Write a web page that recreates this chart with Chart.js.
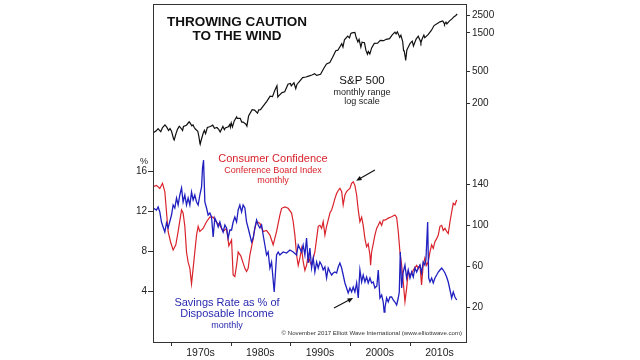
<!DOCTYPE html>
<html>
<head>
<meta charset="utf-8">
<script src="https://cdn.jsdelivr.net/npm/chart.js@4.4.1/dist/chart.umd.min.js"></script>
<style>
  body { margin: 0; background: #fff; }
  canvas { display: block; }
</style>
</head>
<body>
<canvas id="chart" width="640" height="360"></canvas>
<script>
// S&P 500 (log scale, top panel)
const spYear = [1966.95,1967.45,1967.75,1968.0,1968.2,1968.5,1968.9,1969.2,1969.5,1969.75,1970.0,1970.35,1970.45,1970.75,1971.0,1971.3,1971.6,1971.85,1972.0,1972.5,1972.95,1973.1,1973.4,1973.6,1973.8,1974.0,1974.4,1974.6,1974.75,1974.8,1974.95,1975.3,1975.5,1975.7,1976.0,1976.5,1976.9,1977.2,1977.6,1977.9,1978.15,1978.6,1978.85,1979.0,1979.5,1979.75,1979.85,1980.0,1980.2,1980.5,1980.9,1981.0,1981.5,1981.75,1982.0,1982.45,1982.62,1982.9,1983.5,1983.9,1984.4,1984.6,1984.9,1985.5,1985.95,1986.5,1986.9,1987.3,1987.65,1987.8,1987.95,1988.5,1988.95,1989.5,1989.9,1990.05,1990.5,1990.8,1991.0,1991.5,1991.95,1992.5,1992.95,1993.5,1993.95,1994.3,1994.95,1995.5,1995.95,1996.5,1996.95,1997.5,1997.85,1998.5,1998.7,1998.95,1999.5,1999.8,2000.0,2000.2,2000.7,2000.9,2001.2,2001.4,2001.7,2001.9,2002.3,2002.55,2002.8,2002.95,2003.2,2003.5,2003.95,2004.5,2004.95,2005.5,2005.95,2006.5,2006.95,2007.4,2007.6,2007.8,2007.95,2008.2,2008.4,2008.7,2008.85,2008.95,2009.15,2009.2,2009.4,2009.95,2010.3,2010.5,2010.95,2011.3,2011.6,2011.75,2011.95,2012.25,2012.4,2012.95,2013.5,2013.95,2014.5,2014.95,2015.4,2015.65,2015.7,2015.95,2016.1,2016.5,2016.95,2017.3,2017.6,2017.83];
const spClose = [86,91,97,92,89,100,108,101,92,97,90,72,70,84,95,104,98,92,103,107,118,114,105,108,100,96,90,76,64,62,69,85,92,84,100,103,107,98,100,95,88,103,94,99,102,109,101,114,102,121,136,130,130,117,117,110,104,139,167,165,151,166,167,191,211,245,242,290,330,240,247,272,278,346,353,330,360,305,343,380,417,424,436,450,466,445,459,545,615,640,740,900,914,1100,1000,1229,1370,1300,1469,1498,1517,1320,1160,1250,1000,1150,1130,910,815,880,820,975,1112,1120,1212,1200,1248,1270,1418,1530,1455,1549,1468,1320,1400,1166,900,900,735,680,920,1115,1186,1030,1258,1363,1218,1130,1258,1408,1310,1426,1606,1848,1960,2058,2107,1972,1920,2043,1940,2098,2238,2384,2470,2575];

// Consumer Confidence, Conference Board index (right axis, bottom panel)
const ccYear = [1966.92,1967.49,1968.04,1968.49,1968.88,1969.16,1969.43,1969.83,1970.27,1970.72,1971.11,1971.68,1971.94,1972.23,1972.51,1972.78,1973.07,1973.35,1973.62,1973.9,1974.19,1974.46,1974.74,1975.29,1975.86,1976.42,1976.97,1977.54,1978.09,1978.64,1979.21,1979.6,1980.05,1980.32,1980.6,1980.89,1981.16,1981.61,1982.28,1982.56,1982.83,1983.12,1983.67,1983.95,1984.24,1984.79,1985.34,1985.91,1986.47,1987.02,1987.59,1988.14,1988.43,1988.98,1989.53,1990.1,1990.37,1990.65,1990.94,1991.21,1991.49,1991.78,1992.04,1992.33,1992.61,1992.88,1993.17,1993.45,1994.0,1994.29,1994.56,1994.84,1995.13,1995.39,1995.68,1995.96,1996.23,1996.52,1996.8,1997.07,1997.35,1997.64,1997.91,1998.19,1998.48,1998.74,1999.03,1999.31,1999.58,1999.87,2000.15,2000.42,2000.7,2000.99,2001.26,2001.54,2001.83,2002.09,2002.38,2002.66,2002.93,2003.22,2003.33,2003.5,2003.77,2004.05,2004.34,2004.61,2004.89,2005.18,2005.44,2005.73,2006.28,2006.85,2007.4,2007.69,2007.96,2008.24,2008.53,2008.79,2009.08,2009.36,2009.63,2009.92,2010.2,2010.47,2011.04,2011.31,2011.59,2011.86,2012.13,2012.41,2012.71,2012.98,2013.27,2013.55,2013.82,2014.1,2014.39,2014.66,2014.94,2015.23,2015.49,2015.78,2016.06,2016.33,2016.62,2016.9,2017.17,2017.45,2017.74];
const ccIndex = [137.7,139,136,141,133,113,94,84,76,81,94,115,112,99,74,64,58,43,58,74,90.5,99,94,97,103.5,108,108,103,100,94,97,80,85.7,51.5,50,61,74,70,58,55,58,71,87,97,103.5,102,94,95,90.5,81,94,110,116.6,118,116.6,112,103.5,90.5,71,61,68,77.5,64.5,56,61,71,64.5,61,74,87,99,100,97,103.5,90.5,99,105,112,115,120,126,131,134,136,133,120,129.6,133,134.6,136,141,142.5,139,129.6,115,103.5,108,100,87,79,82,71,61,74,82,90.5,97,100,103.5,100,105,105,107,108.4,110,108,94,74,61,45,25.5,38.5,54.7,51.5,53,56.4,61,58,61,41.8,61,68,61,64.5,74,81,77.5,84,87,90.5,99,100,95,97,94,92,103.5,113,121.5,120,124.7];

// Personal savings rate, % of disposable income (left axis, bottom panel)
const svYear = [1966.92,1967.49,1967.76,1968.04,1968.32,1968.59,1968.88,1969.16,1969.43,1970.0,1970.27,1970.55,1970.84,1971.11,1971.39,1971.68,1971.94,1972.23,1972.51,1972.78,1973.07,1973.35,1973.62,1973.9,1974.19,1974.46,1974.74,1975.03,1975.19,1975.36,1975.58,1975.86,1976.13,1976.42,1976.7,1976.97,1977.25,1977.54,1977.81,1978.09,1978.38,1978.64,1978.93,1979.21,1979.48,1979.77,1980.05,1980.32,1980.6,1980.89,1981.16,1981.44,1981.73,1981.99,1982.28,1982.56,1982.83,1983.4,1983.67,1983.95,1984.24,1984.51,1984.79,1985.08,1985.34,1985.63,1985.91,1986.18,1986.47,1986.75,1987.19,1987.59,1987.86,1988.14,1988.69,1989.26,1989.82,1990.37,1990.94,1991.21,1991.78,1992.04,1992.33,1992.61,1992.88,1993.17,1993.45,1993.72,1994.0,1994.29,1994.56,1994.84,1995.13,1995.39,1995.68,1995.96,1996.23,1996.52,1996.8,1997.07,1997.35,1997.64,1997.91,1998.19,1998.48,1998.74,1999.03,1999.31,1999.58,1999.87,2000.15,2000.42,2000.7,2000.99,2001.26,2001.54,2001.83,2002.09,2002.38,2002.66,2002.93,2003.22,2003.5,2003.77,2004.05,2004.38,2004.61,2004.89,2005.18,2005.44,2005.6,2005.73,2006.01,2006.28,2006.57,2006.85,2007.12,2007.4,2007.69,2007.96,2008.13,2008.3,2008.53,2008.79,2009.08,2009.36,2009.63,2009.92,2010.2,2010.47,2010.75,2011.04,2011.31,2011.59,2011.86,2012.13,2012.41,2012.6,2012.88,2013.05,2013.27,2013.55,2013.82,2014.1,2014.39,2014.66,2014.94,2015.23,2015.49,2015.78,2016.06,2016.33,2016.62,2016.9,2017.17,2017.45,2017.74];
const svRate = [12.3,12.1,12.4,11.9,10.9,10.4,9.9,10.8,10.3,11.6,12.6,12.3,13.3,12.6,13.6,14.3,12.9,13.6,12.6,13.3,12.6,13.9,13.1,13.6,12.9,12.6,13.6,14.4,16.3,17.1,12.9,12.3,11.6,11.8,11.4,9.4,11.3,10.9,10.4,10.9,10.3,9.9,10.6,10.3,9.3,10.1,10.1,10.9,11.4,10.9,12.1,12.6,11.9,12.6,12.3,10.9,10.3,8.9,9.3,10.3,11.1,10.6,10.3,10.6,9.6,8.6,7.6,7.9,6.3,6.9,3.9,7.6,7.9,7.6,7.9,7.8,8.1,7.9,7.6,8.6,7.9,8.6,7.6,9.3,6.8,8.3,6.3,7.3,5.9,6.9,6.3,6.9,6.6,6.1,6.4,5.3,6.3,5.9,5.6,5.8,5.9,5.8,6.4,6.8,6.3,5.6,4.8,4.3,3.8,4.3,3.9,4.4,3.9,4.8,3.3,6.1,4.9,5.6,4.9,5.4,4.8,5.3,4.8,4.9,4.3,4.5,6.1,3.3,3.6,2.9,1.9,2.3,3.3,2.9,3.4,3.4,3.1,2.9,2.6,3.3,3.9,7.9,4.3,5.9,6.6,5.3,6.1,5.3,5.9,5.4,6.3,5.9,6.3,6.6,5.8,6.9,6.6,7.2,10.9,5.3,4.9,5.3,4.8,5.3,5.6,5.9,6.1,6.3,6.1,5.8,5.4,4.9,4.1,3.3,3.9,3.4,3.1];

// Tick labels
const decadeTicks = [1970, 1980, 1990, 2000, 2010];
const spTicks = [200, 500, 1500, 2500];
const ccTicks = [20, 60, 100, 140];
const svTicks = [4, 8, 12, 16];

const RED = '#d9232b';
const BLUE = '#2020c0';
const AXIS = '#333';

function pts(xs, ys) {
    return xs.map((x, i) => ({ x: x, y: ys[i] }));
}

function setTicks(list) {
    return function(scale) {
        scale.ticks = list.map(v => ({ value: v }));
    };
}

// taille fixe des axes, sans marge automatique
function fixSize(w, h) {
    return function(scale) {
        if (w !== null) scale.width = w;
        if (h !== null) scale.height = h;
        scale.paddingTop = 0;
        scale.paddingBottom = 0;
        scale.paddingLeft = 0;
        scale.paddingRight = 0;
    };
}

// Cadre + textes + flèches
const decorPlugin = {
    id: 'decor',
    afterDraw(chart) {
        const { ctx, chartArea: a, scales } = chart;
        ctx.save();
        ctx.strokeStyle = AXIS;
        ctx.lineWidth = 1;
        ctx.strokeRect(a.left + 0.5, a.top + 0.5, a.right - a.left, a.bottom - a.top);

        ctx.textAlign = 'center';
        ctx.textBaseline = 'middle';
        const txt = (s, x, y, font, color) => {
            ctx.font = font;
            ctx.fillStyle = color;
            ctx.fillText(s, x, y);
        };
        const F = '"Liberation Sans", Arial, sans-serif';

        txt('THROWING CAUTION', 237, 22, 'bold 13.5px ' + F, '#111');
        txt('TO THE WIND', 237, 36.5, 'bold 13.5px ' + F, '#111');

        txt('S&P 500', 362, 81, '11.5px ' + F, '#111');
        txt('monthly range', 362, 92.5, '9px ' + F, '#222');
        txt('log scale', 362, 102, '9px ' + F, '#222');

        txt('Consumer Confidence', 273, 159, '11px ' + F, RED);
        txt('Conference Board Index', 273, 170.5, '9px ' + F, RED);
        txt('monthly', 273, 181, '9px ' + F, RED);

        txt('Savings Rate as % of', 227, 302.5, '11px ' + F, '#2a2ab0');
        txt('Disposable Income', 227, 314, '11px ' + F, '#2a2ab0');
        txt('monthly', 227, 325.5, '9px ' + F, '#2a2ab0');

        txt('%', 144, scales.ySv.getPixelForValue(16.9), '9px ' + F, '#222');

        ctx.textAlign = 'right';
        txt('\u00A9 November 2017 Elliott Wave International (www.elliottwave.com)', 462, 333, '6.1px ' + F, '#333');

        // flèches, en coordonnées de données
        const arrow = (x0, y0, x1, y1) => {
            const ang = Math.atan2(y1 - y0, x1 - x0);
            ctx.strokeStyle = '#111';
            ctx.fillStyle = '#111';
            ctx.lineWidth = 1.1;
            ctx.beginPath();
            ctx.moveTo(x0, y0);
            ctx.lineTo(x1 - 4 * Math.cos(ang), y1 - 4 * Math.sin(ang));
            ctx.stroke();
            ctx.beginPath();
            ctx.moveTo(x1, y1);
            ctx.lineTo(x1 - 6 * Math.cos(ang - 0.4), y1 - 6 * Math.sin(ang - 0.4));
            ctx.lineTo(x1 - 6 * Math.cos(ang + 0.4), y1 - 6 * Math.sin(ang + 0.4));
            ctx.closePath();
            ctx.fill();
        };
        const X = scales.x, C = scales.yCc, S = scales.ySv;
        arrow(X.getPixelForValue(2004.05), C.getPixelForValue(154),
              X.getPixelForValue(2000.9), C.getPixelForValue(143.5));
        arrow(X.getPixelForValue(1997.2), S.getPixelForValue(2.3),
              X.getPixelForValue(2000.4), S.getPixelForValue(3.3));
        ctx.restore();
    }
};

const tickFont = { family: '"Liberation Sans", Arial, sans-serif', size: 10 };

new Chart(document.getElementById('chart'), {
    type: 'line',
    data: {
        datasets: [
            {
                label: 'Savings Rate',
                data: pts(svYear, svRate),
                yAxisID: 'ySv',
                borderColor: BLUE,
                borderWidth: 1.3,
                order: 0
            },
            {
                label: 'Consumer Confidence',
                data: pts(ccYear, ccIndex),
                yAxisID: 'yCc',
                borderColor: RED,
                borderWidth: 1.2,
                order: 1
            },
            {
                label: 'S&P 500',
                data: pts(spYear, spClose),
                yAxisID: 'ySp',
                borderColor: '#111',
                borderWidth: 1.2,
                order: 2
            }
        ]
    },
    options: {
        responsive: false,
        animation: false,
        events: [],
        elements: {
            point: { radius: 0 },
            line: { tension: 0, fill: false }
        },
        layout: {
            padding: { left: 120, right: 134, top: 4, bottom: 0 }
        },
        plugins: {
            legend: { display: false },
            tooltip: { enabled: false }
        },
        scales: {
            x: {
                type: 'linear',
                position: 'bottom',
                min: 1966.9,
                max: 2019.3,
                afterBuildTicks: setTicks(decadeTicks),
                afterFit: fixSize(null, 18),
                ticks: {
                    callback: v => v + 's',
                    labelOffset: 29,
                    padding: 1,
                    maxRotation: 0,
                    color: '#222',
                    font: { ...tickFont, size: 10.5 }
                },
                grid: { drawOnChartArea: false, tickLength: 4, color: AXIS },
                border: { display: false }
            },
            ySv: {
                type: 'linear',
                position: 'left',
                min: -1.1,
                max: 32.7,
                afterBuildTicks: setTicks(svTicks),
                afterFit: fixSize(33, null),
                ticks: { padding: 1, color: '#222', font: tickFont },
                grid: { drawOnChartArea: false, tickLength: 5, color: AXIS },
                border: { display: false }
            },
            ySp: {
                type: 'logarithmic',
                position: 'right',
                stack: 'right',
                stackWeight: 146,
                min: 52.6,
                max: 3426,
                afterBuildTicks: setTicks(spTicks),
                afterFit: fixSize(40, null),
                ticks: { callback: v => String(v), padding: 2, color: '#222', font: tickFont },
                grid: { drawOnChartArea: false, tickLength: 4, color: AXIS },
                border: { display: false }
            },
            yCc: {
                type: 'linear',
                position: 'right',
                stack: 'right',
                stackWeight: 192,
                min: -13.85,
                max: 173.5,
                afterBuildTicks: setTicks(ccTicks),
                afterFit: fixSize(40, null),
                ticks: { padding: 2, color: '#222', font: tickFont },
                grid: { drawOnChartArea: false, tickLength: 4, color: AXIS },
                border: { display: false }
            }
        }
    },
    plugins: [decorPlugin]
});
</script>
</body>
</html>
